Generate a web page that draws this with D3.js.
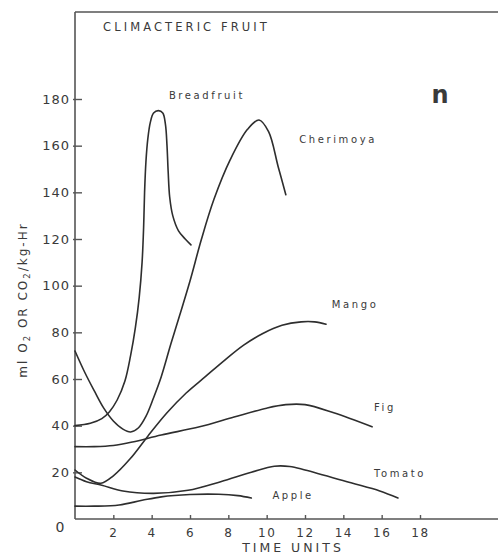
<!DOCTYPE html>
<html>
<head>
<meta charset="utf-8">
<script src="https://cdn.jsdelivr.net/npm/d3@7/dist/d3.min.js"></script>
<style>
  html, body { margin: 0; padding: 0; background: #ffffff; }
  svg { display: block; }
  text { font-family: "DejaVu Sans", sans-serif; fill: #3a3a3a; }
</style>
</head>
<body>
<svg id="chart" width="498" height="555"></svg>
<script>
// ---- data ----
const title = "CLIMACTERIC FRUIT";
const xTickValues = [2, 4, 6, 8, 10, 12, 14, 16, 18];
const yTickValues = [20, 40, 60, 80, 100, 120, 140, 160, 180];
const xTitle = "TIME UNITS";
const panelLetter = "n";

const breadfruit = [[0,40],[0.8,41],[1.4,43],[1.8,46],[2.2,51],[2.6,59],[2.9,70],[3.15,82],[3.35,95],[3.5,110],[3.58,125],[3.63,140],[3.7,153],[3.8,163],[3.93,170],[4.1,174],[4.35,175],[4.58,174],[4.72,169],[4.8,160],[4.86,149],[4.94,138],[5.1,130],[5.4,123.5],[5.75,120],[6.05,117.5]];
const cherimoya = [[0,72],[0.5,63],[1.0,55],[1.5,47.5],[2.0,42],[2.5,38.5],[2.9,37.3],[3.3,39],[3.7,44],[4.1,52],[4.5,61],[5.0,75],[5.45,87],[6.0,102],[6.6,120],[7.25,137],[8.1,154],[9.0,167],[9.6,171],[10.1,166],[10.6,151],[11.0,139]];
const mango = [[0,21],[0.6,17.5],[1.35,15.3],[2.0,18.5],[2.9,26],[3.8,35.5],[4.8,45.5],[5.8,54],[6.8,61],[7.8,68],[8.8,74.5],[9.8,79.5],[10.8,83],[11.8,84.5],[12.5,84.5],[13.1,83.5]];
const fig = [[0,31],[1,31],[2,31.5],[3,33],[4.5,36],[6.5,39.5],[8.3,43.7],[10,47.5],[11,49],[12,49],[13.5,45.5],[15.5,39.5]];
const tomato = [[0,18],[0.6,16],[1.4,14.5],[2.5,12],[4.1,11],[5.9,12.3],[7.6,16],[9.2,20],[10.4,22.6],[11.2,22.5],[12.0,21],[14.4,15.5],[15.9,12],[16.85,9]];
const apple = [[0,5.5],[1,5.5],[2.3,6],[3.5,8],[4.5,9.5],[6,10.5],[7.5,10.6],[8.5,10],[9.2,9]];

const seriesNames = ["Breadfruit", "Cherimoya", "Mango", "Fig", "Tomato", "Apple"];
const seriesData = [breadfruit, cherimoya, mango, fig, tomato, apple];
// label anchor (data units) for each curve name
const labelX = [4.9, 11.7, 13.4, 15.6, 15.6, 10.3];
const labelY = [180, 161, 90.5, 46.5, 18, 8.5];

// ---- layout ----
const svg = d3.select("#chart");
const x = d3.scaleLinear().domain([0, 18]).range([75, 420]);
const y = d3.scaleLinear().domain([0, 180]).range([519, 99]);
const ink = "#2e2e2e";

// frame: top line, left axis, bottom axis
svg.append("line").attr("x1", 75).attr("x2", 498).attr("y1", 12).attr("y2", 12)
  .attr("stroke", "#555").attr("stroke-width", 1.6);
svg.append("line").attr("x1", x(0)).attr("x2", x(0)).attr("y1", 12).attr("y2", y(0))
  .attr("stroke", "#555").attr("stroke-width", 1.6);
svg.append("line").attr("x1", x(0)).attr("x2", 498).attr("y1", y(0)).attr("y2", y(0))
  .attr("stroke", "#555").attr("stroke-width", 1.6);

// y axis ticks + labels
const yAxis = d3.axisLeft(y).tickValues(yTickValues).tickSizeInner(-7).tickSizeOuter(0).tickPadding(5);
const gy = svg.append("g").attr("transform", `translate(${x(0)},0)`).call(yAxis);
gy.select(".domain").remove();
gy.selectAll(".tick line").attr("stroke", "#555").attr("stroke-width", 1.4).attr("x1", -2);
gy.selectAll(".tick text").attr("font-size", 13).attr("letter-spacing", 1).attr("fill", "#444")
  .attr("font-family", "DejaVu Sans, sans-serif").attr("x", -5);

// x axis ticks + labels
const xAxis = d3.axisBottom(x).tickValues(xTickValues).tickSizeInner(-4).tickSizeOuter(0).tickPadding(9);
const gx = svg.append("g").attr("transform", `translate(0,${y(0)})`).call(xAxis);
gx.select(".domain").remove();
gx.selectAll(".tick line").attr("stroke", "#555").attr("stroke-width", 1.4);
gx.selectAll(".tick text").attr("font-size", 12).attr("letter-spacing", 1.5).attr("fill", "#444")
  .attr("font-family", "DejaVu Sans, sans-serif");

// origin label
svg.append("text").attr("x", x(0) - 15).attr("y", y(0) + 13).attr("text-anchor", "middle")
  .attr("font-size", 14).attr("fill", "#444").text("0");

// curves
const line = d3.line().x(d => x(d[0])).y(d => y(d[1])).curve(d3.curveCatmullRom.alpha(0.5));
svg.append("g").selectAll("path").data(seriesData).join("path")
  .attr("d", line).attr("fill", "none").attr("stroke", ink)
  .attr("stroke-width", 1.6).attr("stroke-linejoin", "round").attr("stroke-linecap", "round");

// curve labels
svg.append("g").selectAll("text").data(seriesNames).join("text")
  .attr("x", (d, i) => x(labelX[i])).attr("y", (d, i) => y(labelY[i]))
  .attr("font-size", 10).attr("letter-spacing", 2.6).attr("fill", "#333").text(d => d);

// title
svg.append("text").attr("x", 103).attr("y", 31).attr("font-size", 11.5)
  .attr("letter-spacing", 3.1).attr("fill", "#404040").text(title);

// panel letter
svg.append("text").attr("x", 440).attr("y", 103).attr("text-anchor", "middle")
  .attr("font-size", 24).attr("font-weight", "bold").attr("fill", "#222").text(panelLetter);

// x title
svg.append("text").attr("x", 293).attr("y", 552).attr("text-anchor", "middle")
  .attr("font-size", 12.5).attr("letter-spacing", 3).attr("fill", "#3a3a3a").text(xTitle);

// y title (rotated)
const yt = svg.append("text").attr("transform", "translate(27,300) rotate(-90)")
  .attr("text-anchor", "middle").attr("font-size", 12).attr("letter-spacing", 2).attr("fill", "#3a3a3a");
yt.append("tspan").text("ml O");
yt.append("tspan").attr("font-size", 8.5).attr("dy", 3).text("2");
yt.append("tspan").attr("dy", -3).text(" OR CO");
yt.append("tspan").attr("font-size", 8.5).attr("dy", 3).text("2");
yt.append("tspan").attr("dy", -3).text("/kg-Hr");
</script>
</body>
</html>
